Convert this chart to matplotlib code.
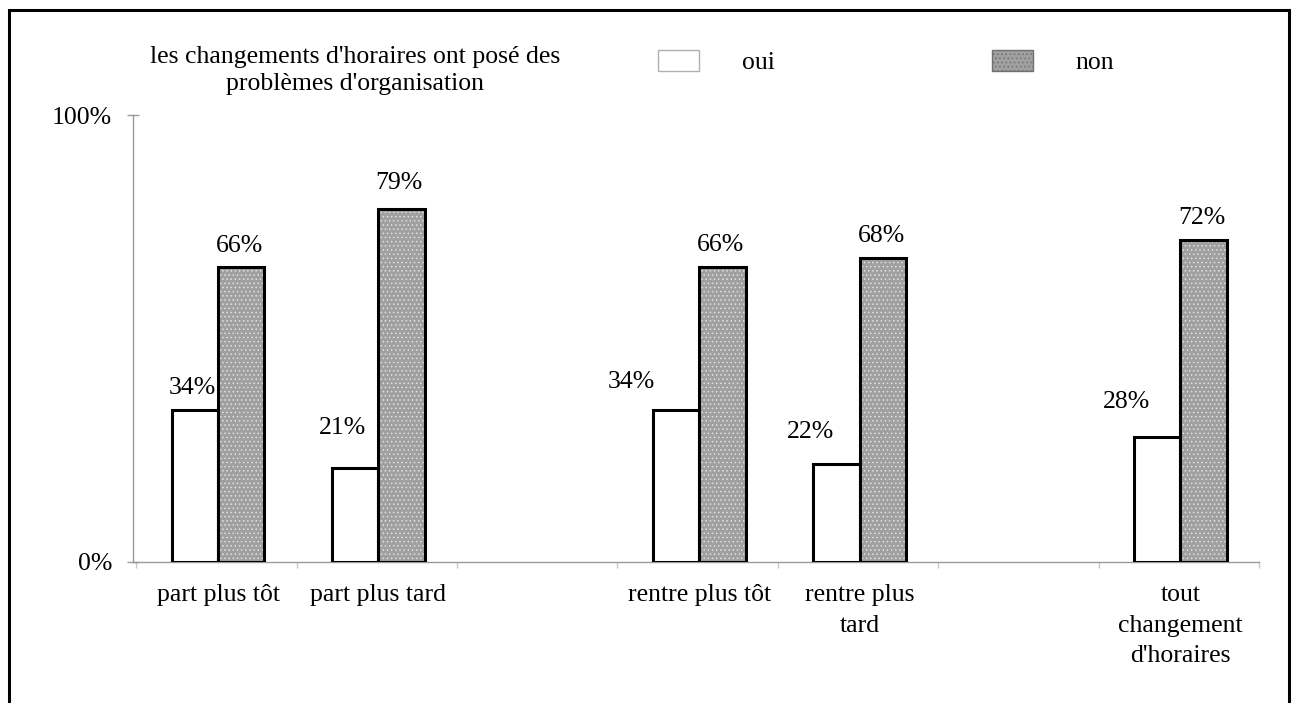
import matplotlib
matplotlib.use("Agg")
import matplotlib.pyplot as plt
from matplotlib.patches import Patch, Rectangle
import numpy as np

# ---- data ----
categories = ["part plus tôt", "part plus tard", "rentre plus tôt",
              "rentre plus\ntard", "tout\nchangement\nd'horaires"]
slots = [0, 1, 3, 4, 6]          # category slot positions on the axis (2 and 5 are empty)
oui = [0.34, 0.21, 0.34, 0.22, 0.28]
non = [0.66, 0.79, 0.66, 0.68, 0.72]
oui_labels = ["34%", "21%", "34%", "22%", "28%"]
non_labels = ["66%", "79%", "66%", "68%", "72%"]
series_names = ["oui", "non"]
title = "les changements d'horaires ont posé des\nproblèmes d'organisation"
yticks = [0, 1]
yticklabels = ["0%", "100%"]

# ---- style ----
plt.rcParams['font.family'] = ['Liberation Serif', 'DejaVu Serif']
FS = 18.5
W, H = 1293, 703
fig = plt.figure(figsize=(W / 100, H / 100), dpi=100)
ax = fig.add_axes([133 / W, 1 - 562 / H, (1259 - 133) / W, (562 - 115) / H])

shift = 0.03
bw = 0.289
x = np.array(slots, dtype=float) + shift
gray_face = '#a0a0a0'

ax.bar(x - bw / 2, oui, width=bw, facecolor='white', edgecolor='black',
       linewidth=2.2, zorder=3)
plt.rcParams['hatch.linewidth'] = 0.6
ax.bar(x + bw / 2, non, width=bw, facecolor=gray_face, edgecolor='#e0e0e0',
       linewidth=0, hatch='....', zorder=3)
ax.bar(x + bw / 2, non, width=bw, facecolor='none', edgecolor='black',
       linewidth=2.2, zorder=4)

# value labels (offsets in points, hand-placed as in the original)
oui_off = [(-2, 16), (-9, 29), (-32, 20), (-19, 23), (-22, 25)]
non_off = [(-1, 15), (-2, 18.5), (-1, 16), (-1, 16), (-1, 16)]
for xi, v, lab, (dx, dy) in zip(x - bw / 2, oui, oui_labels, oui_off):
    ax.annotate(lab, (xi, v), xytext=(dx, dy), textcoords='offset points',
                ha='center', va='center', fontsize=FS, zorder=5)
for xi, v, lab, (dx, dy) in zip(x + bw / 2, non, non_labels, non_off):
    ax.annotate(lab, (xi, v), xytext=(dx, dy), textcoords='offset points',
                ha='center', va='center', fontsize=FS, zorder=5)

ax.set_xlim(-0.5, 6.5)
ax.set_ylim(0, 1)
for s in ['top', 'right']:
    ax.spines[s].set_visible(False)
for s in ['left', 'bottom']:
    ax.spines[s].set_color('#9a9a9a')
    ax.spines[s].set_linewidth(1.0)

ax.set_yticks(yticks)
ax.set_yticklabels(yticklabels, fontsize=FS)
ax.tick_params(axis='y', direction='inout', length=8, width=1.0,
               color='#9a9a9a', pad=11)

ax.set_xticks(x)
ax.set_xticklabels(categories, fontsize=FS, linespacing=1.5)
ax.tick_params(axis='x', which='major', length=0, pad=16)
ax.set_xticks(np.arange(-0.5, 7.0, 1.0) + 0.02, minor=True)
ax.tick_params(axis='x', which='minor', direction='out', length=4,
               width=1.0, color='#c8c8c8')

# title
fig.text(355 / W, 1 - 70.5 / H, title, ha='center', va='center',
         fontsize=FS, linespacing=1.32)

# legend
handles = [Patch(facecolor='white', edgecolor='#b0b0b0', linewidth=1.0),
           Patch(facecolor=gray_face, edgecolor='#707070', linewidth=1.0,
                 hatch='....')]
leg = fig.legend(handles, series_names, loc='center left',
                 bbox_to_anchor=(658 / W, 1 - 62 / H), ncol=2, frameon=False,
                 fontsize=FS, handlelength=1.6, handleheight=0.87,
                 handletextpad=1.65, columnspacing=8.45, borderpad=0,
                 borderaxespad=0)

# outer frame
fig.patches.append(Rectangle((9 / W, -0.05), (1289 - 9) / W, 1.05 - 10 / H,
                             transform=fig.transFigure, fill=False,
                             edgecolor='black', linewidth=2.2))

fig.savefig("out.png", dpi=100)
